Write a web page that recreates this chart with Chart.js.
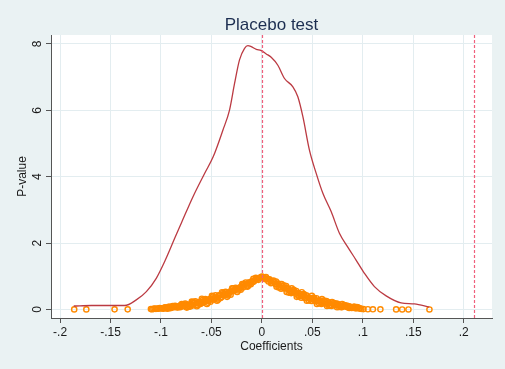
<!DOCTYPE html>
<html>
<head>
<meta charset="utf-8">
<script src="https://cdn.jsdelivr.net/npm/chart.js@4"></script>
<style>
  html, body { margin: 0; padding: 0; background: #eaf2f3; }
  canvas { display: block; }
</style>
</head>
<body>
<canvas id="c" width="505" height="369"></canvas>
<script>
// ---- Data ----
const titleText = 'Placebo test';
const xTitle = 'Coefficients';
const yTitle = 'P-value';

const xTicks = [-0.2, -0.15, -0.1, -0.05, 0, 0.05, 0.1, 0.15, 0.2];
const xTickLabels = ['-.2', '-.15', '-.1', '-.05', '0', '.05', '.1', '.15', '.2'];
const yTicks = [0, 2, 4, 6, 8];
const yTickLabels = ['0', '2', '4', '6', '8'];

// vertical reference lines (xline)
const refLines = [0, 0.21];

// kernel density of placebo coefficients
const densX = [-0.1865,-0.169,-0.149,-0.136,-0.1245,-0.1145,-0.1047,-0.0957,-0.0858,-0.0799,-0.0683,-0.0568,-0.0483,-0.0386,-0.0321,-0.0271,-0.0222,-0.0172,-0.0139,-0.0106,-0.0056,-0.0007,0.0043,0.0092,0.0158,0.0224,0.0307,0.0356,0.0406,0.0471,0.0538,0.0604,0.0686,0.0768,0.0851,0.0933,0.1016,0.1115,0.1231,0.1379,0.1511,0.1659];
const densY = [0.105,0.12,0.12,0.12,0.29,0.54,0.94,1.49,2.19,2.60,3.40,4.10,4.60,5.41,6.01,6.81,7.52,7.87,7.95,7.92,7.84,7.80,7.70,7.60,7.36,6.96,6.71,6.41,5.81,4.80,4.10,3.50,2.95,2.30,1.88,1.49,1.09,0.69,0.41,0.20,0.17,0.07];

// placebo coefficients and their p-values (scatter)
const coefX = [
  -0.186,-0.174,-0.146,-0.133,
  -0.1100,-0.1075,-0.1050,-0.1025,-0.1000,-0.0975,-0.0950,-0.0925,-0.0900,-0.0875,-0.0850,-0.0825,-0.0800,-0.0775,-0.0750,-0.0725,-0.0700,-0.0675,-0.0650,-0.0625,-0.0600,-0.0575,-0.0550,-0.0525,-0.0500,-0.0475,-0.0450,-0.0425,-0.0400,-0.0375,-0.0350,-0.0325,-0.0300,-0.0275,-0.0250,-0.0225,-0.0200,-0.0175,-0.0150,-0.0125,-0.0100,-0.0075,-0.0050,-0.0025,0.0000,
  -0.10875,-0.10625,-0.10375,-0.10125,-0.09875,-0.09625,-0.09375,-0.09125,-0.08875,-0.08625,-0.08375,-0.08125,-0.07875,-0.07625,-0.07375,-0.07125,-0.06875,-0.06625,-0.06375,-0.06125,-0.05875,-0.05625,-0.05375,-0.05125,-0.04875,-0.04625,-0.04375,-0.04125,-0.03875,-0.03625,-0.03375,-0.03125,-0.02875,-0.02625,-0.02375,-0.02125,-0.01875,-0.01625,-0.01375,-0.01125,-0.00875,-0.00625,-0.00375,-0.00125,
  -0.0960,-0.0910,-0.0860,-0.0810,-0.0760,-0.0710,-0.0660,-0.0610,-0.0560,-0.0510,-0.0460,-0.0410,-0.0360,-0.0310,-0.0260,-0.0210,-0.0160,-0.0110,-0.0060,
  -0.0935,-0.0885,-0.0835,-0.0785,-0.0735,-0.0685,-0.0635,-0.0585,-0.0535,-0.0485,-0.0435,-0.0385,-0.0335,-0.0285,-0.0235,-0.0185,-0.0135,-0.0085,-0.0035,
  -0.0795,-0.0745,-0.0695,-0.0645,-0.0595,-0.0545,-0.0495,-0.0445,-0.0395,-0.0345,-0.0295,-0.0245,-0.0195,-0.0145,
  0.0025,0.0050,0.0075,0.0100,0.0125,0.0150,0.0175,0.0200,0.0225,0.0250,0.0275,0.0300,0.0325,0.0350,0.0375,0.0400,0.0425,0.0450,0.0475,0.0500,0.0525,0.0550,0.0575,0.0600,0.0625,0.0650,0.0675,0.0700,0.0725,0.0750,0.0775,0.0800,0.0825,0.0850,0.0875,0.0900,0.0925,0.0950,
  0.00125,0.00375,0.00625,0.00875,0.01125,0.01375,0.01625,0.01875,0.02125,0.02375,0.02625,0.02875,0.03125,0.03375,0.03625,0.03875,0.04125,0.04375,0.04625,0.04875,0.05125,0.05375,0.05625,0.05875,0.06125,0.06375,0.06625,0.06875,0.07125,0.07375,0.07625,0.07875,0.08125,0.08375,0.08625,0.08875,0.09125,0.09375,
  0.0040,0.0090,0.0140,0.0190,0.0240,0.0290,0.0340,0.0390,0.0440,0.0490,0.0540,0.0590,0.0640,0.0690,0.0740,0.0790,0.0840,0.0890,0.0940,
  0.0065,0.0115,0.0165,0.0215,0.0265,0.0315,0.0365,0.0415,0.0465,0.0515,0.0565,0.0615,0.0665,0.0715,0.0765,0.0815,0.0865,0.0915,0.0965,
  0.0145,0.0195,0.0245,0.0295,0.0345,0.0395,0.0445,0.0495,0.0545,0.0595,0.0645,0.0695,0.0745,0.0795,
  0.097,0.0985,0.1006,0.105,0.110,0.1174,0.133,0.139,0.1452,0.166
];
const pValue = [
  0.003,0.003,0.004,0.005,
  0.012,0.018,0.020,0.025,0.038,0.026,0.045,0.079,0.046,0.084,0.088,0.083,0.133,0.104,0.146,0.109,0.153,0.209,0.145,0.223,0.231,0.221,0.291,0.274,0.327,0.302,0.358,0.426,0.374,0.464,0.485,0.487,0.570,0.565,0.630,0.616,0.683,0.761,0.720,0.819,0.848,0.858,0.939,0.949,0.990,
  0.008,0.030,0.024,0.046,0.034,0.054,0.036,0.078,0.070,0.069,0.073,0.108,0.099,0.150,0.113,0.156,0.121,0.207,0.194,0.192,0.201,0.271,0.263,0.326,0.300,0.355,0.332,0.430,0.429,0.440,0.461,0.544,0.548,0.623,0.608,0.675,0.662,0.771,0.780,0.799,0.828,0.919,0.929,0.970,
  0.070,0.043,0.109,0.069,0.181,0.087,0.248,0.164,0.317,0.232,0.427,0.343,0.532,0.447,0.656,0.598,0.814,0.762,0.953,
  0.026,0.101,0.059,0.150,0.074,0.223,0.126,0.293,0.205,0.392,0.295,0.492,0.424,0.641,0.571,0.766,0.713,0.922,0.893,
  0.165,0.058,0.236,0.098,0.325,0.166,0.412,0.264,0.520,0.381,0.637,0.527,0.770,0.688,
  0.939,0.929,0.908,0.808,0.819,0.760,0.681,0.713,0.636,0.650,0.555,0.550,0.537,0.445,0.464,0.414,0.346,0.388,0.322,0.347,0.264,0.271,0.271,0.191,0.223,0.185,0.129,0.183,0.129,0.166,0.094,0.113,0.108,0.068,0.084,0.066,0.039,0.067,
  0.980,0.909,0.909,0.848,0.849,0.760,0.781,0.672,0.665,0.648,0.613,0.528,0.534,0.481,0.490,0.409,0.440,0.342,0.345,0.340,0.316,0.243,0.261,0.221,0.242,0.174,0.217,0.131,0.146,0.153,0.140,0.079,0.103,0.083,0.094,0.060,0.083,0.041,
  0.975,0.794,0.845,0.628,0.704,0.494,0.558,0.356,0.429,0.257,0.340,0.169,0.251,0.109,0.181,0.067,0.117,0.049,0.075,
  0.844,0.874,0.666,0.731,0.509,0.590,0.396,0.467,0.272,0.353,0.189,0.270,0.115,0.195,0.078,0.137,0.047,0.082,0.028,
  0.688,0.770,0.527,0.637,0.381,0.520,0.264,0.412,0.166,0.315,0.108,0.226,0.068,0.165,
  0.035,0.020,0.012,0.008,0.006,0.004,0.003,0.002,0.002,0.001
];

// ---- Styles ----
const BG = '#eaf2f3';
const GRID = '#e3edf0';
const AXIS = '#555555';
const TEXT = '#1a1a1a';
const FONT = "'Liberation Sans', Arial, Helvetica, sans-serif";

const bgPlugin = {
  id: 'bg',
  beforeDraw(chart) {
    const { ctx, chartArea: a } = chart;
    ctx.save();
    ctx.fillStyle = BG;
    ctx.fillRect(0, 0, chart.width, chart.height);
    ctx.fillStyle = '#ffffff';
    ctx.fillRect(a.left, a.top, a.right - a.left, a.bottom - a.top);
    ctx.restore();
  }
};

const xlinePlugin = {
  id: 'xlines',
  afterDatasetsDraw(chart) {
    const { ctx, chartArea: a, scales } = chart;
    ctx.save();
    ctx.strokeStyle = '#f0607c';
    ctx.lineWidth = 1.2;
    ctx.setLineDash([3, 2]);
    refLines.forEach(v => {
      const px = Math.round(scales.x.getPixelForValue(v)) + 0.5;
      ctx.beginPath();
      ctx.moveTo(px, a.top);
      ctx.lineTo(px, a.bottom);
      ctx.stroke();
    });
    ctx.restore();
  }
};

new Chart(document.getElementById('c'), {
  data: {
    datasets: [
      {
        type: 'line',
        xAxisID: 'x',
        yAxisID: 'y',
        data: densX.map((x, i) => ({ x, y: densY[i] })),
        borderColor: '#bb3a42',
        borderWidth: 1.3,
        pointRadius: 0,
        fill: false,
        cubicInterpolationMode: 'monotone'
      },
      {
        type: 'scatter',
        xAxisID: 'x',
        yAxisID: 'y',
        data: coefX.map((x, i) => ({ x, y: pValue[i] })),
        borderColor: '#ff8a00',
        backgroundColor: 'rgba(0,0,0,0)',
        pointRadius: 2.6,
        borderWidth: 1.4,
        pointStyle: 'circle'
      }
    ]
  },
  options: {
    responsive: false,
    animation: false,
    devicePixelRatio: 1,
    layout: { padding: { left: 0, right: 13, top: 0, bottom: 0 } },
    plugins: {
      legend: { display: false },
      tooltip: { enabled: false },
      title: { display: false }
    },
    scales: {
      x: {
        type: 'linear',
        position: 'bottom',
        min: -0.209,
        max: 0.228,
        afterFit(s) { s.height = 51; },
        afterBuildTicks(s) { s.ticks = xTicks.map(v => ({ value: v })); },
        ticks: {
          callback: (v, i) => xTickLabels[i],
          color: TEXT,
          font: { family: FONT, size: 12 },
          padding: 2,
          maxRotation: 0,
          autoSkip: false
        },
        grid: { color: GRID, lineWidth: 1, tickColor: AXIS, tickLength: 5, drawTicks: true },
        border: { display: true, color: AXIS, width: 1 },
        title: {
          display: true,
          text: xTitle,
          color: TEXT,
          font: { family: FONT, size: 12 },
          padding: { top: 0, bottom: 15 }
        }
      },
      y: {
        type: 'linear',
        position: 'left',
        min: -0.256,
        max: 8.271,
        afterFit(s) { s.width = 51; },
        afterBuildTicks(s) { s.ticks = yTicks.map(v => ({ value: v })); },
        ticks: {
          callback: (v, i) => yTickLabels[i],
          color: TEXT,
          font: { family: FONT, size: 12 },
          minRotation: 90,
          maxRotation: 90,
          crossAlign: 'center',
          padding: 5,
          autoSkip: false
        },
        grid: { color: GRID, lineWidth: 1, tickColor: AXIS, tickLength: 5, drawTicks: true },
        border: { display: true, color: AXIS, width: 1 },
        title: {
          display: true,
          text: yTitle,
          color: TEXT,
          font: { family: FONT, size: 12 },
          padding: { top: 15, bottom: 0 }
        }
      },
      titleAxis: {
        type: 'linear',
        axis: 'x',
        position: 'top',
        min: 0,
        max: 1,
        afterFit(s) { s.height = 35; },
        ticks: { display: false },
        grid: { display: false, drawTicks: false },
        border: { display: false },
        title: {
          display: true,
          text: titleText,
          color: '#1c2e50',
          font: { family: FONT, size: 17, weight: 'normal' },
          padding: { top: 15, bottom: 0 }
        }
      }
    }
  },
  plugins: [bgPlugin, xlinePlugin]
});
</script>
</body>
</html>
